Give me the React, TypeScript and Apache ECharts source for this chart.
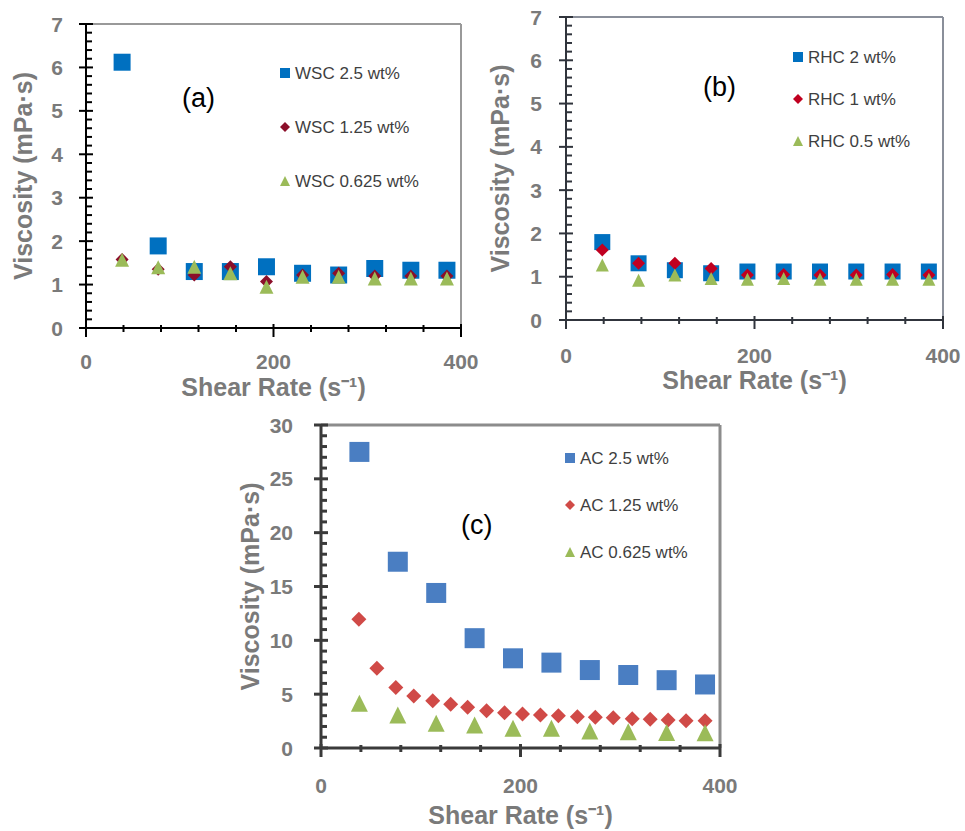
import React, { useEffect, useRef } from "react";
import * as echarts from "echarts";

// Shear rates (s^-1)
const shearRates = [38.5, 77, 115.5, 154, 192.5, 231, 269.5, 308, 346.5, 385];
const shearRatesFine = [38, 56, 75, 93, 112, 130, 147, 166, 184, 202, 220, 238, 257, 275, 293, 312, 330, 348, 366, 385];

// (a) WSC
const wsc25 = [6.12, 1.89, 1.3, 1.3, 1.41, 1.26, 1.22, 1.37, 1.33, 1.33];
const wsc125 = [1.58, 1.35, 1.22, 1.41, 1.07, 1.22, 1.26, 1.2, 1.2, 1.2];
const wsc0625 = [1.57, 1.4, 1.41, 1.26, 0.95, 1.18, 1.18, 1.14, 1.14, 1.14];

// (b) RHC
const rhc2 = [1.8, 1.31, 1.15, 1.08, 1.12, 1.12, 1.12, 1.12, 1.12, 1.12];
const rhc1 = [1.62, 1.31, 1.31, 1.19, 1.04, 1.05, 1.04, 1.04, 1.05, 1.04];
const rhc05 = [1.27, 0.92, 1.04, 0.96, 0.94, 0.96, 0.94, 0.94, 0.94, 0.94];

// (c) AC
const ac25 = [27.5, 17.3, 14.4, 10.2, 8.33, 7.93, 7.24, 6.78, 6.3, 5.9];
const ac125 = [11.95, 7.4, 5.63, 4.83, 4.4, 4.06, 3.78, 3.47, 3.28, 3.16, 3.07, 3.0, 2.9, 2.85, 2.8, 2.72, 2.66, 2.6, 2.54, 2.54];
const ac0625 = [4.15, 3.06, 2.3, 2.14, 1.83, 1.83, 1.58, 1.52, 1.45, 1.42];

const namesA = ["WSC 2.5 wt%", "WSC 1.25 wt%", "WSC 0.625 wt%"];
const namesB = ["RHC 2 wt%", "RHC 1 wt%", "RHC 0.5 wt%"];
const namesC = ["AC 2.5 wt%", "AC 1.25 wt%", "AC 0.625 wt%"];
const panelLabels = ["(a)", "(b)", "(c)"];

// axis ranges & tick steps
const xMax = 400;
const xMajor = 200;
const xMinor = 40;
const yMaxAB = 7;
const yMajorAB = 1;
const yMinorAB = 0.2;
const yMaxC = 30;
const yMajorC = 5;
const yMinorC = 1;

const FONT = "'Liberation Sans', Arial, sans-serif";
const GRAY = "#7a7a7a";

const grids = [
  { left: 86, top: 24, width: 375, height: 304 },
  { left: 566, top: 17, width: 377, height: 303 },
  { left: 321, top: 425, width: 399, height: 323 },
];

const panelAxes = [
  { yMax: yMaxAB, yMajor: yMajorAB, yMinor: yMinorAB, axis: "#000000", frame: "#999999", w: 2 },
  { yMax: yMaxAB, yMajor: yMajorAB, yMinor: yMinorAB, axis: "#30343c", frame: "#8a8f9a", w: 2 },
  { yMax: yMaxC, yMajor: yMajorC, yMinor: yMinorC, axis: "#3a3a3a", frame: "#8c8c8c", w: 3 },
];

const labelPos = [
  [182, 84],
  [703, 73],
  [461, 511],
];

function pairs(xs: number[], ys: number[]) {
  return ys.map((y, i) => [xs[i], y]);
}

function steps(max: number, step: number) {
  const out: number[] = [];
  const n = Math.round(max / step);
  for (let i = 0; i <= n; i++) out.push(+(i * step).toFixed(6));
  return out;
}

function isMajor(v: number, major: number) {
  return Math.abs(v / major - Math.round(v / major)) < 1e-6;
}

function xAxisCfg(gridIndex: number, nameGap: number, labelMargin: number) {
  return {
    type: "value",
    gridIndex,
    min: 0,
    max: xMax,
    interval: xMajor,
    name: "Shear Rate (s\u207B\u00B9)",
    nameLocation: "middle",
    nameGap,
    nameTextStyle: { color: GRAY, fontSize: 25, fontWeight: "bold", fontFamily: FONT },
    axisLine: { show: false },
    axisTick: { show: false },
    minorTick: { show: false },
    axisLabel: { color: GRAY, fontSize: 21, fontWeight: "bold", fontFamily: FONT, margin: labelMargin },
    splitLine: { show: false },
  };
}

function yAxisCfg(gridIndex: number, max: number, interval: number, nameGap: number, labelMargin: number) {
  return {
    type: "value",
    gridIndex,
    min: 0,
    max,
    interval,
    name: "Viscosity (mPa\u00B7s)",
    nameLocation: "middle",
    nameGap,
    nameTextStyle: { color: GRAY, fontSize: 25, fontWeight: "bold", fontFamily: FONT },
    axisLine: { show: false },
    axisTick: { show: false },
    minorTick: { show: false },
    axisLabel: { color: GRAY, fontSize: 21, fontWeight: "bold", fontFamily: FONT, margin: labelMargin },
    splitLine: { show: false },
  };
}

function scatter(name: string, idx: number, data: number[][], symbol: string, size: number, color: string) {
  return {
    type: "scatter",
    name,
    xAxisIndex: idx,
    yAxisIndex: idx,
    data,
    symbol,
    symbolSize: size,
    itemStyle: { color, opacity: 1 },
  };
}

function legendCfg(names: string[], left: number, top: number, gap: number) {
  return {
    data: names,
    orient: "vertical",
    left,
    top,
    itemGap: gap,
    itemWidth: 10,
    itemHeight: 10,
    textStyle: { color: "#3f3f3f", fontSize: 17, fontFamily: FONT, lineHeight: 20 },
  };
}

function seg(x1: number, y1: number, x2: number, y2: number, color: string, w: number) {
  return { type: "line", shape: { x1, y1, x2, y2 }, style: { stroke: color, lineWidth: w } };
}

// Frame, axis lines and ticks, laid out on the same linear scale as the grids
function axisFurniture() {
  const out: any[] = [];
  grids.forEach((g, i) => {
    const p = panelAxes[i];
    const x0 = g.left;
    const x1 = g.left + g.width;
    const y0 = g.top + g.height;
    const y1 = g.top;
    const px = (v: number) => x0 + (v / xMax) * g.width;
    const py = (v: number) => y0 - (v / p.yMax) * g.height;
    out.push(seg(x0, y1, x1, y1, p.frame, p.w));
    out.push(seg(x1, y1, x1, y0, p.frame, p.w));
    steps(xMax, xMinor).forEach((v) => {
      if (isMajor(v, xMajor)) out.push(seg(px(v), y0 - 4, px(v), y0 + 9, p.axis, p.w));
      else out.push(seg(px(v), y0 - 3, px(v), y0 + 4, p.axis, p.w));
    });
    steps(p.yMax, p.yMinor).forEach((v) => {
      if (isMajor(v, p.yMajor)) out.push(seg(x0 - 7, py(v), x0 + 7, py(v), p.axis, p.w));
      else out.push(seg(x0, py(v), x0 + 6, py(v), p.axis, p.w));
    });
    out.push(seg(x0 - 1, y0, x1 + 1, y0, p.axis, p.w));
    out.push(seg(x0, y1 - 1, x0, y0 + 1, p.axis, p.w));
  });
  return out;
}

export default function App() {
  const ref = useRef<HTMLDivElement>(null);
  useEffect(() => {
    if (!ref.current) return;
    const chart = echarts.init(ref.current, null, { renderer: "svg" });
    chart.setOption({
      animation: false,
      backgroundColor: "#ffffff",
      grid: grids,
      xAxis: [xAxisCfg(0, 46, 23), xAxisCfg(1, 47, 25), xAxisCfg(2, 54, 27)],
      yAxis: [yAxisCfg(0, yMaxAB, yMajorAB, 51, 23), yAxisCfg(1, yMaxAB, yMajorAB, 54, 24), yAxisCfg(2, yMaxC, yMajorC, 59, 28)],
      legend: [
        legendCfg(namesA, 275, 58, 34),
        legendCfg(namesB, 788, 42, 22),
        legendCfg(namesC, 560, 443, 27),
      ],
      series: [
        scatter(namesA[0], 0, pairs(shearRates, wsc25), "rect", 17, "#0070C0"),
        scatter(namesA[1], 0, pairs(shearRates, wsc125), "diamond", 13, "#8B0F2A"),
        scatter(namesA[2], 0, pairs(shearRates, wsc0625), "triangle", 14, "#9BBB59"),
        scatter(namesB[0], 1, pairs(shearRates, rhc2), "rect", 16, "#0070C0"),
        scatter(namesB[1], 1, pairs(shearRates, rhc1), "diamond", 13, "#C00020"),
        scatter(namesB[2], 1, pairs(shearRates, rhc05), "triangle", 13, "#9BBB59"),
        scatter(namesC[0], 2, pairs(shearRates, ac25), "rect", 20, "#4A7EC2"),
        scatter(namesC[1], 2, pairs(shearRatesFine, ac125), "diamond", 15, "#D04A47"),
        scatter(namesC[2], 2, pairs(shearRates, ac0625), "triangle", 17, "#9BBB59"),
      ],
      graphic: [
        ...axisFurniture(),
        ...panelLabels.map((t, i) => ({
          type: "text",
          left: labelPos[i][0],
          top: labelPos[i][1],
          style: { text: t, fontSize: 27, fontFamily: FONT, fill: "#000" },
        })),
      ],
    });
    return () => chart.dispose();
  }, []);
  return (
    <div
      ref={ref}
      style={{ position: "absolute", left: 0, top: 0, width: 965, height: 831, background: "#fff" }}
    />
  );
}
